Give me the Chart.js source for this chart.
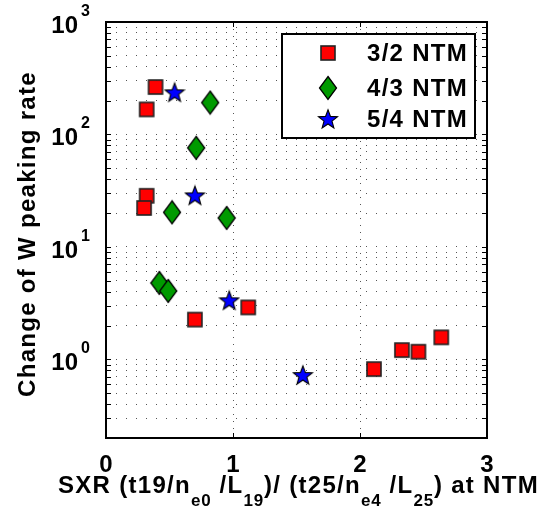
<!DOCTYPE html>
<html><head><meta charset="utf-8">
<script src="https://cdn.jsdelivr.net/npm/chart.js@4/dist/chart.umd.min.js"></script>
<style>html,body{margin:0;padding:0;background:#fff}</style>
</head><body>
<canvas id="c" width="545" height="508" style="display:block"></canvas>
<script>
// ---- data ----
const x32 = [0.39, 0.32, 0.32, 0.30, 0.70, 1.12, 2.11, 2.33, 2.46, 2.64];
const y32 = [264, 167, 28.5, 22.2, 2.26, 2.90, 0.82, 1.21, 1.17, 1.57];
const x43 = [0.82, 0.71, 0.52, 0.95, 0.42, 0.49];
const y43 = [192, 76, 20.3, 18.1, 4.78, 4.06];
const x54 = [0.54, 0.70, 0.97, 1.55];
const y54 = [237, 28.7, 3.35, 0.725];
const seriesNames = ['3/2 NTM', '4/3 NTM', '5/4 NTM'];
const xTickLabels = ['0', '1', '2', '3'];
const yDecades = [0, 1, 2, 3];           // labels 10^0 .. 10^3
const yMin = 0.2, yMax = 1000;
const yTitle = 'Change of W peaking rate';
const xTitleRuns = [
  ['SXR (t19/n', 0], ['e0', 1], [' /L', 0], ['19', 1], [')/ (t25/n', 0],
  ['e4', 1], [' /L', 0], ['25', 1], [') at NTM', 0]
];

// ---- marker images ----
function mk(w, h, draw) { const c = document.createElement('canvas'); c.width = w; c.height = h; const g = c.getContext('2d'); draw(g); return c; }
const sqImg = mk(18, 18, g => { g.fillStyle = '#ff0000'; g.strokeStyle = '#222'; g.lineWidth = 1.6; g.fillRect(2, 2, 14, 14); g.strokeRect(2, 2, 14, 14); });
const diaImg = mk(20, 26, g => { g.beginPath(); g.moveTo(10, 1.5); g.lineTo(18.5, 13); g.lineTo(10, 24.5); g.lineTo(1.5, 13); g.closePath(); g.fillStyle = '#009a00'; g.fill(); g.strokeStyle = '#000'; g.lineWidth = 1.3; g.stroke(); });
const starImg = mk(22, 22, g => {
  g.beginPath();
  for (let i = 0; i < 10; i++) { const r = i % 2 ? 4.2 : 10; const a = -Math.PI / 2 + i * Math.PI / 5; const px = 11 + r * Math.cos(a), py = 11.8 + r * Math.sin(a); i ? g.lineTo(px, py) : g.moveTo(px, py); }
  g.closePath(); g.fillStyle = '#0000ff'; g.fill(); g.strokeStyle = '#000'; g.lineWidth = 1.1; g.stroke();
});
const imgs = [sqImg, diaImg, starImg];

const pts = (xs, ys) => xs.map((v, i) => ({ x: v, y: ys[i] }));

// grid values for log axis (1..9 per decade)
const yGrid = [];
for (let d = -1; d <= 2; d++) for (let m = 1; m <= 9; m++) { const v = m * Math.pow(10, d); if (v >= yMin - 1e-9) yGrid.push(+v.toPrecision(3)); }
yGrid.push(yMax);

const FONT = 'Liberation Sans, Arial, sans-serif';
function spacedWidth(ctx, t, ls) { let w = 0; for (const ch of t) w += ctx.measureText(ch).width + ls; return w; }
function spacedText(ctx, t, x, y, ls) { for (const ch of t) { ctx.fillText(ch, x, y); x += ctx.measureText(ch).width + ls; } return x; }

const deco = {
  id: 'deco',
  afterDatasetsDraw(chart) {
    const { ctx, chartArea: a, scales: { x, y } } = chart;
    ctx.save();
    // ticks inward
    ctx.strokeStyle = '#000'; ctx.lineWidth = 1;
    yGrid.forEach(v => {
      const py = Math.round(y.getPixelForValue(v)) + 0.5;
      ctx.beginPath(); ctx.moveTo(a.left, py); ctx.lineTo(a.left + 5, py); ctx.moveTo(a.right, py); ctx.lineTo(a.right - 5, py); ctx.stroke();
    });
    xTickLabels.forEach((t, i) => {
      const px = Math.round(x.getPixelForValue(i)) + 0.5;
      ctx.beginPath(); ctx.moveTo(px, a.bottom); ctx.lineTo(px, a.bottom - 5); ctx.moveTo(px, a.top); ctx.lineTo(px, a.top + 5); ctx.stroke();
    });
    // frame
    ctx.lineWidth = 2; ctx.strokeRect(a.left, a.top, a.right - a.left, a.bottom - a.top);

    ctx.fillStyle = '#000'; ctx.textBaseline = 'alphabetic';
    // x tick labels
    ctx.font = 'bold 24px ' + FONT; ctx.textAlign = 'center';
    xTickLabels.forEach((t, i) => ctx.fillText(t, x.getPixelForValue(i), 472));
    // y tick labels
    yDecades.forEach(e => {
      const py = y.getPixelForValue(Math.pow(10, e));
      ctx.font = 'bold 24px ' + FONT; ctx.textAlign = 'right';
      ctx.fillText('10', 78, py + 11);
      ctx.font = 'bold 16px ' + FONT; ctx.textAlign = 'left';
      ctx.fillText(String(e), 81, py - 6);
    });
    // y title
    ctx.save();
    ctx.translate(35, 234); ctx.rotate(-Math.PI / 2);
    ctx.font = 'bold 24px ' + FONT; ctx.textAlign = 'left';
    const ls = 1.3;
    const w = spacedWidth(ctx, yTitle, ls);
    spacedText(ctx, yTitle, -w / 2, 0, ls);
    ctx.restore();
    // x title
    ctx.textAlign = 'left';
    let cx = 58;
    xTitleRuns.forEach(([t, sub]) => {
      if (sub) { ctx.font = 'bold 17px ' + FONT; cx = spacedText(ctx, t, cx, 506, 0.8); }
      else { ctx.font = 'bold 24px ' + FONT; cx = spacedText(ctx, t, cx, 493, 1.3); }
    });
    // legend
    const L = { l: 282, t: 34, r: 475, b: 138 };
    ctx.fillStyle = '#fff'; ctx.fillRect(L.l, L.t, L.r - L.l, L.b - L.t);
    ctx.strokeStyle = '#000'; ctx.lineWidth = 2; ctx.strokeRect(L.l, L.t, L.r - L.l, L.b - L.t);
    const rows = [53, 88, 119];
    chart.data.datasets.forEach((ds, i) => {
      const im = ds.pointStyle;
      ctx.drawImage(im, 328 - im.width / 2, rows[i] - im.height / 2);
      ctx.fillStyle = '#000'; ctx.font = 'bold 24px ' + FONT; ctx.textAlign = 'left'; ctx.textBaseline = 'middle';
      spacedText(ctx, ds.label, 367, rows[i] + 1, 1.3);
      ctx.textBaseline = 'alphabetic';
    });
    ctx.restore();
  }
};

new Chart(document.getElementById('c'), {
  type: 'scatter',
  plugins: [deco],
  data: {
    datasets: [
      { label: seriesNames[0], data: pts(x32, y32), pointStyle: imgs[0] },
      { label: seriesNames[1], data: pts(x43, y43), pointStyle: imgs[1] },
      { label: seriesNames[2], data: pts(x54, y54), pointStyle: imgs[2] }
    ]
  },
  options: {
    responsive: false, animation: false, events: [],
    devicePixelRatio: 1,
    layout: { padding: { left: 106, top: 22, right: 58, bottom: 70 } },
    plugins: { legend: { display: false }, tooltip: { enabled: false } },
    scales: {
      x: {
        type: 'linear', min: 0, max: 3,
        ticks: { display: false, stepSize: 1 },
        grid: { color: '#555', lineWidth: 1, drawTicks: false },
        border: { display: false, dash: [1, 6] }
      },
      y: {
        type: 'logarithmic', min: yMin, max: yMax,
        afterBuildTicks: s => { s.ticks = yGrid.map(v => ({ value: v })); },
        ticks: { display: false },
        grid: { color: '#555', lineWidth: 1, drawTicks: false },
        border: { display: false, dash: [1, 9] }
      }
    }
  }
});
</script>
</body></html>
